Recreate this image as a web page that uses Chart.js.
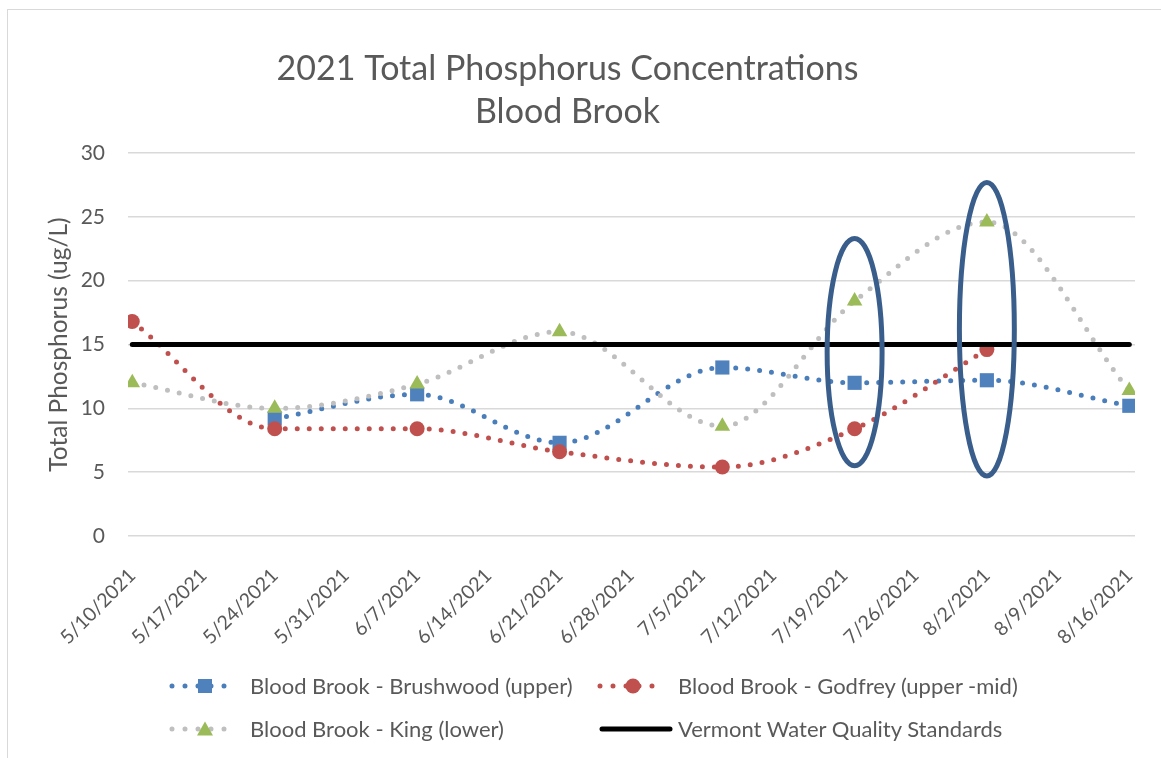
<!DOCTYPE html>
<html>
<head>
<meta charset="utf-8">
<script src="https://cdn.jsdelivr.net/npm/chart.js@4.4.1/dist/chart.umd.min.js"></script>
<style>
  body { margin: 0; background: #fff; font-family: Lato, sans-serif; }
  .wrap { position: relative; width: 1161px; height: 758px; }
  .frame { position: absolute; left: 7px; top: 9px; right: -2px; bottom: -2px; border: 1.5px solid #d9d9d9; }
  canvas { position: absolute; left: 0; top: 0; }
  .legend { position: absolute; left: 0; top: 0; color: #595959; font-size: 22px; }
  .legend svg, .legend span { position: absolute; white-space: nowrap; }
</style>
</head>
<body>
<div class="wrap">
  <div class="frame"></div>
  <canvas id="phosChart" width="1161" height="758"></canvas>
  <div class="legend" id="legend"></div>
</div>
<script>
// Fechas de muestreo y valores (ug/L)
const sampleDates = ['5/10/2021', '5/24/2021', '6/7/2021', '6/21/2021', '7/7/2021', '7/20/2021', '8/2/2021', '8/16/2021'];
const brushwood = [null, 9.2, 11.1, 7.3, 13.2, 12.0, 12.2, 10.2];
const godfrey = [16.8, 8.4, 8.4, 6.6, 5.4, 8.4, 14.6, null];
const king = [12.0, 10.0, 11.9, 16.0, 8.6, 18.4, 24.6, 11.4];
const standardDates = ['5/10/2021', '8/16/2021'];
const standardValue = [15, 15];
const tickLabels = ['5/10/2021', '5/17/2021', '5/24/2021', '5/31/2021', '6/7/2021', '6/14/2021', '6/21/2021',
  '6/28/2021', '7/5/2021', '7/12/2021', '7/19/2021', '7/26/2021', '8/2/2021', '8/9/2021', '8/16/2021'];
const yTicks = [0, 5, 10, 15, 20, 25, 30];

// Elipses resaltadas (fecha, rango vertical)
const highlightDates = ['7/20/2021', '8/2/2021'];
const highlightLow = [5.5, 4.7];
const highlightHigh = [23.3, 27.7];

function dayOf(s) {
  const [m, d, y] = s.split('/').map(Number);
  const start = Date.UTC(2021, 4, 10);
  return Math.round((Date.UTC(y, m - 1, d) - start) / 86400000);
}
function points(values) {
  return sampleDates.map((d, i) => ({ x: dayOf(d), y: values[i] })).filter(p => p.y !== null);
}

const grey = '#595959';
const font = 'Lato';

const ellipsePlugin = {
  id: 'ellipses',
  afterDatasetsDraw(chart) {
    const { ctx, scales: { x, y } } = chart;
    ctx.save();
    ctx.strokeStyle = '#3a5e8c';
    ctx.lineWidth = 5;
    highlightDates.forEach((d, i) => {
      const cx = x.getPixelForValue(dayOf(d));
      const rx = x.getPixelForValue(dayOf(d) + 2.7) - cx;
      const top = y.getPixelForValue(highlightHigh[i]);
      const bottom = y.getPixelForValue(highlightLow[i]);
      ctx.beginPath();
      ctx.ellipse(cx, (top + bottom) / 2, rx, (bottom - top) / 2, 0, 0, Math.PI * 2);
      ctx.stroke();
    });
    ctx.restore();
  }
};

const dotted = { borderWidth: 5, borderDash: [0, 12], borderCapStyle: 'round', cubicInterpolationMode: 'monotone', fill: false };

const ctx = document.getElementById('phosChart').getContext('2d');
const chart = new Chart(ctx, {
  type: 'line',
  data: {
    datasets: [
      Object.assign({
        label: 'Blood Brook - Brushwood (upper)',
        data: points(brushwood),
        borderColor: '#4a7ebb',
        pointStyle: 'rect',
        pointRadius: 10,
        pointBackgroundColor: '#4f81bd',
        pointBorderWidth: 0,
        order: 3
      }, dotted),
      Object.assign({
        label: 'Blood Brook - Godfrey (upper -mid)',
        data: points(godfrey),
        borderColor: '#c0504d',
        pointStyle: 'circle',
        pointRadius: 7.5,
        pointBackgroundColor: '#c0504d',
        pointBorderWidth: 0,
        order: 2
      }, dotted),
      Object.assign({
        label: 'Blood Brook - King (lower)',
        data: points(king),
        borderColor: '#bfbfbf',
        pointStyle: 'triangle',
        pointRadius: 9,
        pointBackgroundColor: '#9bbb59',
        pointBorderWidth: 0,
        order: 1
      }, dotted),
      {
        label: 'Vermont Water Quality Standards',
        data: standardDates.map((d, i) => ({ x: dayOf(d), y: standardValue[i] })),
        borderColor: '#000000',
        borderWidth: 5,
        borderCapStyle: 'round',
        pointRadius: 0,
        order: 0
      }
    ]
  },
  options: {
    responsive: false,
    animation: false,
    layout: { padding: { left: 0, right: 26, top: 0, bottom: 100 } },
    plugins: {
      legend: { display: false },
      tooltip: { enabled: false },
      title: {
        display: true,
        text: ['2021 Total Phosphorus Concentrations', 'Blood Brook'],
        color: grey,
        font: { family: font, size: 34, weight: 'normal', lineHeight: 1.265 },
        padding: { top: 48, bottom: 19 }
      }
    },
    scales: {
      x: {
        type: 'linear',
        min: -0.42,
        max: 98.56,
        afterBuildTicks(scale) {
          scale.ticks = tickLabels.map(l => ({ value: dayOf(l) }));
        },
        afterFit(scale) {
          scale.height = 122;
          scale.paddingRight = 0;
        },
        grid: { display: false },
        border: { display: false },
        ticks: {
          autoSkip: false,
          maxRotation: 45,
          minRotation: 45,
          padding: 20,
          color: grey,
          font: { family: font, size: 19.5 },
          callback: (v, i) => tickLabels[i]
        }
      },
      y: {
        min: 0,
        max: 30,
        afterBuildTicks(scale) {
          scale.ticks = yTicks.map(v => ({ value: v }));
        },
        afterFit(scale) { scale.width = 128; },
        grid: { color: '#d9d9d9', lineWidth: 1.5, drawTicks: false },
        border: { display: false },
        ticks: { padding: 23, color: grey, font: { family: font, size: 21 } },
        title: {
          display: true,
          text: 'Total Phosphorus (ug/L)',
          color: grey,
          font: { family: font, size: 24.5, weight: 'normal' },
          padding: { top: 44 }
        }
      }
    }
  },
  plugins: [ellipsePlugin]
});

// Leyenda en HTML
const legendItems = [
  { sample: 172, text: 250, top: 686, ds: 0 },
  { sample: 600, text: 678, top: 686, ds: 1 },
  { sample: 172, text: 250, top: 729, ds: 2 },
  { sample: 602, text: 678, top: 729, ds: 3 }
];
const legendEl = document.getElementById('legend');
legendItems.forEach(it => {
  const ds = chart.data.datasets[it.ds];
  let svg;
  if (it.ds === 3) {
    svg = '<line x1="3" y1="10" x2="71" y2="10" stroke="#000" stroke-width="5" stroke-linecap="round"/>';
  } else {
    let marker;
    if (ds.pointStyle === 'rect') marker = '<rect x="29" y="3" width="14" height="14" fill="#4f81bd"/>';
    else if (ds.pointStyle === 'circle') marker = '<circle cx="36" cy="10" r="7.5" fill="#c0504d"/>';
    else marker = '<polygon points="36,2.5 44,16.5 28,16.5" fill="#9bbb59"/>';
    svg = '<line x1="3" y1="10" x2="68" y2="10" stroke="' + ds.borderColor +
      '" stroke-width="5" stroke-linecap="round" stroke-dasharray="0 13"/>' + marker;
  }
  const s = document.createElementNS('http://www.w3.org/2000/svg', 'svg');
  s.setAttribute('width', '76');
  s.setAttribute('height', '20');
  s.style.left = (it.sample - 3) + 'px';
  s.style.top = (it.top - 10) + 'px';
  s.innerHTML = svg;
  legendEl.appendChild(s);
  const span = document.createElement('span');
  span.textContent = ds.label;
  span.style.left = it.text + 'px';
  span.style.top = (it.top - 14) + 'px';
  legendEl.appendChild(span);
});
</script>
</body>
</html>
